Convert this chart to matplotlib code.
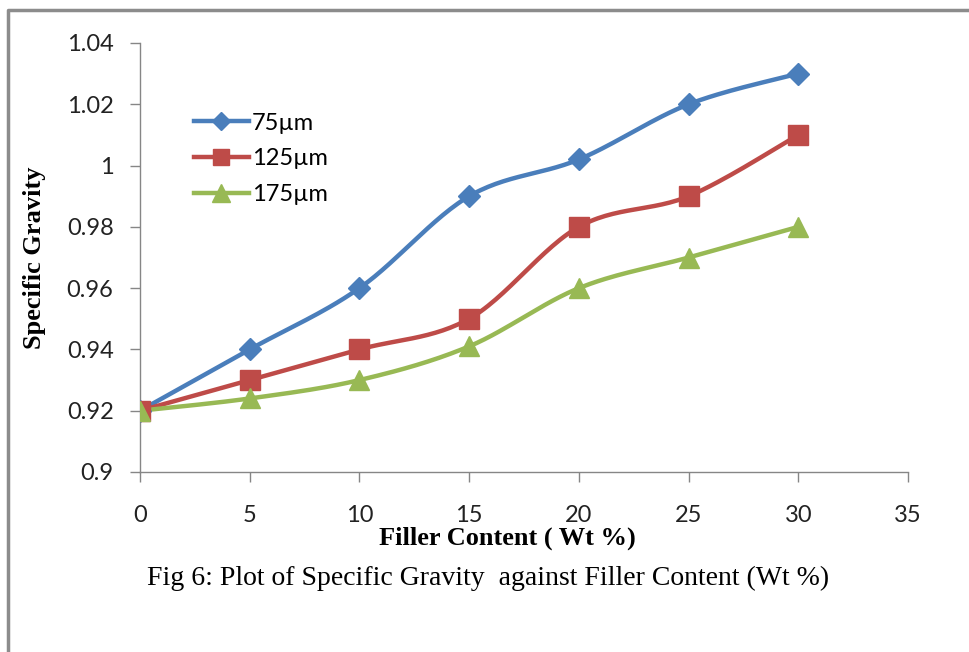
import numpy as np
from matplotlib import pyplot as plt
from matplotlib.lines import Line2D

# data
filler = [0, 5, 10, 15, 20, 25, 30]
sg_75 = [0.92, 0.94, 0.96, 0.99, 1.002, 1.02, 1.03]
sg_125 = [0.92, 0.93, 0.94, 0.95, 0.98, 0.99, 1.01]
sg_175 = [0.92, 0.924, 0.93, 0.941, 0.96, 0.97, 0.98]
labels = ['75\u00b5m', '125\u00b5m', '175\u00b5m']

colors = ['#4A7EBB', '#BE4B48', '#98B954']
markers = ['D', 's', '^']
msizes = [11, 14, 15]


def smooth(x, y, n=30):
    # excel style smoothed line (catmull-rom bezier)
    x = np.asarray(x, float)
    y = np.asarray(y, float)
    px = np.concatenate([[x[0]], x, [x[-1]]])
    py = np.concatenate([[y[0]], y, [y[-1]]])
    xs, ys = [], []
    t = np.linspace(0, 1, n)
    for i in range(1, len(px) - 2):
        p0 = np.array([px[i], py[i]])
        p3 = np.array([px[i + 1], py[i + 1]])
        c1 = p0 + (np.array([px[i + 1], py[i + 1]]) - np.array([px[i - 1], py[i - 1]])) / 6
        c2 = p3 - (np.array([px[i + 2], py[i + 2]]) - np.array([px[i], py[i]])) / 6
        b = ((1 - t) ** 3)[:, None] * p0 + (3 * (1 - t) ** 2 * t)[:, None] * c1 \
            + (3 * (1 - t) * t ** 2)[:, None] * c2 + (t ** 3)[:, None] * p3
        xs.extend(b[:, 0])
        ys.extend(b[:, 1])
    return xs, ys


fig = plt.figure(figsize=(9.69, 6.52), dpi=100)
ax = fig.add_axes([140 / 969, 1 - 472 / 652, 768 / 969, 429 / 652])

series = [sg_75, sg_125, sg_175]
handles = []
for y, c, m, ms, lab in zip(series, colors, markers, msizes, labels):
    xs, ys = smooth(filler, y)
    ax.plot(xs, ys, color=c, lw=3.2, solid_capstyle='round', zorder=2)
    ax.plot(filler, y, ls='none', marker=m, ms=ms, color=c, zorder=3)
    handles.append(Line2D([], [], color=c, lw=3.2, marker=m, ms=ms))

ax.set_xlim(0, 35)
ax.set_ylim(0.9, 1.04)
ax.set_xticks(range(0, 36, 5))
ax.set_yticks(np.arange(0.9, 1.041, 0.02))
ax.set_yticklabels(['0.9', '0.92', '0.94', '0.96', '0.98', '1', '1.02', '1.04'])

for s in ['top', 'right']:
    ax.spines[s].set_visible(False)
for s in ['left', 'bottom']:
    ax.spines[s].set_color('#868686')
    ax.spines[s].set_linewidth(1)
ax.tick_params(direction='out', length=7, width=1, color='#868686',
               labelsize=17, labelcolor='#222222')
ax.tick_params(axis='y', pad=12)
ax.tick_params(axis='x', pad=17)
for lab in ax.get_xticklabels() + ax.get_yticklabels():
    lab.set_family('Lato')

ax.set_xlabel('Filler Content ( Wt %)', family='Liberation Serif', weight='bold',
              fontsize=19)
ax.xaxis.set_label_coords(0.479, -0.155)
ax.xaxis.label.set_va('center')
ax.set_ylabel('Specific Gravity', family='Liberation Serif', weight='bold',
              fontsize=19)
ax.yaxis.set_label_coords(-0.137, 0.499)
ax.yaxis.label.set_va('center')

leg = ax.legend(handles, labels, loc='upper left', bbox_to_anchor=(0.043, 0.887),
                frameon=False, handlelength=2.3, handletextpad=0.15,
                labelspacing=0.62, markerscale=0.85,
                prop={'family': 'Lato', 'size': 17})

fig.text(488 / 969, 1 - 578 / 652, 'Fig 6: Plot of Specific Gravity  against Filler Content (Wt %)',
         family='Liberation Serif', fontsize=20, ha='center', va='center')

# outer frame from the source page
fig.add_artist(Line2D([8 / 969, 8 / 969, 1], [0, 1 - 10 / 652, 1 - 10 / 652],
                      color='#8c8c8c', lw=2.5, transform=fig.transFigure))

fig.savefig('out.png', dpi=100)
